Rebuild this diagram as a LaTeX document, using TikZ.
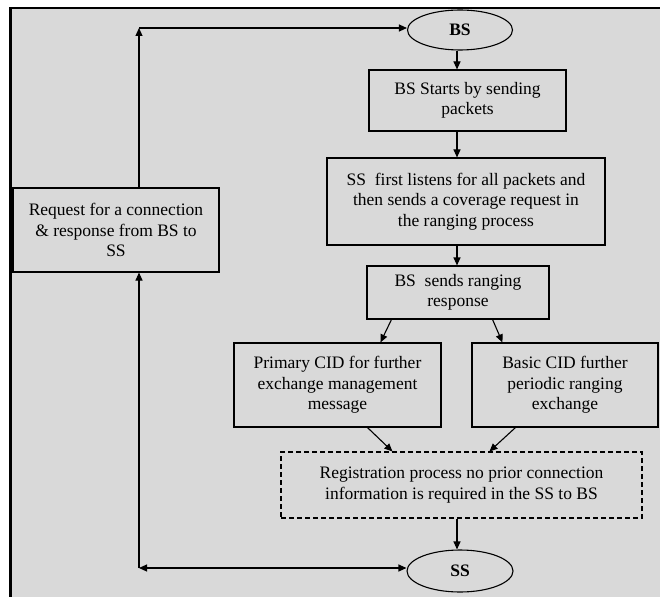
\documentclass[tikz,border=0pt]{standalone}
\usepackage{fontspec}
\setmainfont{Liberation Serif}
\usetikzlibrary{arrows.meta,calc,shapes.geometric}
\definecolor{bggray}{HTML}{D9D9D9}
\begin{document}
\begin{tikzpicture}[x=1pt,y=-1pt,
  box/.style={draw=black,line width=1.1pt,rectangle,inner sep=0pt,align=center,
    font=\fontsize{17.5}{20.5}\selectfont},
  dbox/.style={box,dash pattern=on 5pt off 3pt},
  oval/.style={draw=black,line width=1.1pt,ellipse,inner sep=0pt,
    font=\fontsize{17.5}{20}\selectfont\bfseries},
  arr/.style={line width=1.1pt,-{Triangle[length=8pt,width=7pt]}},
  darr/.style={line width=1.1pt,{Triangle[length=8pt,width=7pt]}-{Triangle[length=8pt,width=7pt]}},
]
\useasboundingbox (0,0) rectangle (660,596);
\fill[white] (0,0) rectangle (660,596);
\clip (0,0) rectangle (660,596);
\draw[fill=bggray, line width=2.6pt] (10.5,8) rectangle (680,620);

\node[oval, minimum width=105pt, minimum height=40pt] (BS) at (460,30) {BS};
\node[box, minimum width=197pt, minimum height=61pt] (bsstart) at (467.5,100.5)
  {BS Starts by sending\\packets};
\node[box, minimum width=278pt, minimum height=87pt] (ssfirst) at (466,201.5)
  {SS\ \ first listens for all packets and\\then sends a coverage request in\\the ranging process};
\node[box, minimum width=182pt, minimum height=53pt] (bssends) at (458,292.5)
  {BS\ \ sends ranging\\response};
\node[box, minimum width=207pt, minimum height=84pt] (primary) at (337.5,385)
  {Primary CID for further\\exchange management\\message};
\node[box, minimum width=186pt, minimum height=84pt] (basic) at (565,385)
  {Basic CID further\\periodic ranging\\exchange};
\node[dbox, minimum width=361pt, minimum height=66pt] (reg) at (461.5,485)
  {Registration process no prior connection\\information is required in the SS to BS};
\node[box, minimum width=206pt, minimum height=84pt] (request) at (116,230)
  {Request for a connection\\\& response from BS to\\SS};
\node[oval, minimum width=106pt, minimum height=42pt] (SS) at (460,571) {SS};

\coordinate (colx) at (457,0);
\coordinate (lx) at (139,0);
\coordinate (ctop) at (139,28);
\coordinate (cbot) at (139,568);

\draw[arr] (BS.south -| colx) -- (bsstart.north -| colx);
\draw[arr] (bsstart.south -| colx) -- (ssfirst.north -| colx);
\draw[arr] (ssfirst.south -| colx) -- (bssends.north -| colx);
\draw[arr] ($(bssends.south west)+(25,0)$) -- ($(primary.north west)+(147,0)$);
\draw[arr] ($(bssends.south east)+(-57,0)$) -- ($(basic.north west)+(31,0)$);
\draw[arr] ($(primary.south west)+(134,0)$) -- ($(reg.north west)+(112,0)$);
\draw[arr] ($(basic.south west)+(44,0)$) -- ($(reg.north west)+(209,0)$);
\draw[arr] (reg.south -| colx) -- (SS.north -| colx);

\draw[arr] (request.north -| lx) -- (ctop);
\draw[arr] (ctop) -- (BS.west |- ctop);
\draw[arr] (cbot) -- (request.south -| lx);
\draw[darr] (cbot) -- (SS.west |- cbot);
\end{tikzpicture}
\end{document}
